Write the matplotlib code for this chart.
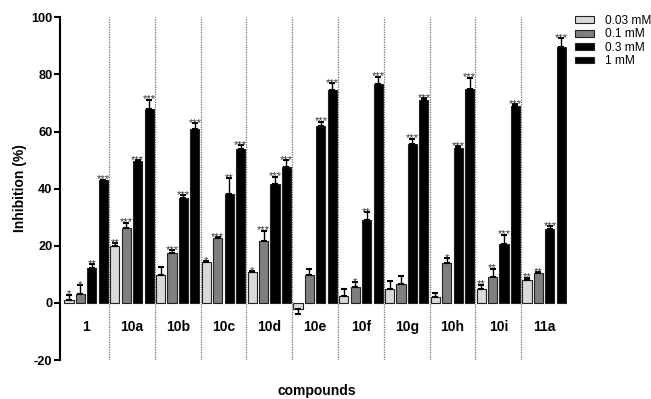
import numpy as np
import matplotlib
matplotlib.use("Agg")
from matplotlib import pyplot as plt
from matplotlib.patches import Patch

plt.rcParams['font.family'] = ['Liberation Sans', 'DejaVu Sans']
plt.rcParams['font.weight'] = 'bold'
plt.rcParams['axes.unicode_minus'] = False

compounds = ["1", "10a", "10b", "10c", "10d", "10e", "10f", "10g", "10h", "10i", "11a"]
series = ["0.03 mM", "0.1 mM", "0.3 mM", "1 mM"]

# inhibition (%) and SEM for each concentration
inh_003 = [0.9, 19.8, 9.6, 14.2, 10.8, -2.0, 2.5, 4.7, 1.9, 4.7, 8.0]
err_003 = [2.0, 1.0, 2.8, 0.3, 0.4, 2.0, 2.2, 3.0, 1.4, 1.7, 0.8]
inh_01 = [3.0, 26.1, 17.3, 22.6, 21.6, 9.6, 5.7, 6.5, 13.9, 9.1, 10.4]
err_01 = [3.1, 2.0, 1.2, 0.5, 3.7, 2.1, 1.6, 2.9, 1.7, 2.9, 0.3]
inh_03 = [12.3, 49.7, 36.7, 38.1, 41.5, 62.0, 29.0, 55.8, 54.4, 20.6, 26.0]
err_03 = [1.2, 0.4, 1.1, 5.5, 2.7, 1.5, 2.8, 1.7, 0.6, 3.3, 0.9]
inh_1 = [43.0, 68.0, 60.9, 53.9, 47.7, 74.6, 76.8, 70.9, 74.9, 69.0, 89.5]
err_1 = [0.2, 3.2, 2.0, 1.3, 2.4, 2.4, 2.4, 0.8, 4.0, 0.6, 3.1]

stars_003 = ["*", "**", "", "*", "*", "", "", "", "", "**", "**"]
stars_01 = ["*", "***", "***", "***", "***", "", "*", "", "*", "**", "**"]
stars_03 = ["**", "***", "***", "**", "***", "***", "**", "***", "***", "***", "***"]
stars_1 = ["***"] * 11

values = [inh_003, inh_01, inh_03, inh_1]
errors = [err_003, err_01, err_03, err_1]
stars = [stars_003, stars_01, stars_03, stars_1]
colors = ["#d9d9d9", "#7f7f7f", "black", "black"]

fig = plt.figure(figsize=(6.51, 3.99), dpi=100)
ax = fig.add_axes([0.0922, 0.0977, 0.7788, 0.8589])

x = np.arange(len(compounds))
w = 0.2
for k in range(4):
    v = np.array(values[k])
    e = np.array(errors[k])
    pos = x + (k - 1.5) * 0.25
    ax.bar(pos, v, width=w, color=colors[k], edgecolor="#222222", linewidth=0.8, zorder=2)
    lo = np.where(v < 0, e, 0)
    hi = np.where(v >= 0, e, 0)
    ax.errorbar(pos, v, yerr=[lo, hi], fmt="none", ecolor="black", elinewidth=1,
                capsize=2, capthick=1.5, zorder=3)
    for p, val, er, s in zip(pos, v, e, stars[k]):
        if s:
            ax.annotate(s, (p, val + er), xytext=(0, -2), textcoords="offset points",
                        ha="center", va="baseline", fontsize=8, fontweight="normal",
                        color="#333333")

ax.vlines(x[:-1] + 0.5, -20, 100, colors="#6f6f6f", linestyles=(0, (1, 1)), linewidth=0.9, zorder=1)

ax.set_xlim(-0.57, 10.5)
ax.set_ylim(-20, 100)
ax.set_yticks([-20, 0, 20, 40, 60, 80, 100])
ax.set_xticks(x)
ax.set_xticklabels(compounds, fontweight="bold", fontsize=9.5)
ax.tick_params(axis="y", width=1.5, length=4, pad=1.5, labelsize=9.2)
ax.tick_params(axis="x", length=0, pad=12)

ax.spines["top"].set_visible(False)
ax.spines["right"].set_visible(False)
ax.spines["bottom"].set_position(("data", 0))
ax.spines["bottom"].set_color("none")
ax.spines["left"].set_linewidth(1.5)

fig.text(20 / 651, 1 - 188 / 399, "Inhibition (%)", rotation=90, ha="center", va="center",
         fontweight="bold", fontsize=10)
fig.text(317 / 651, 1 - 391 / 399, "compounds", ha="center", va="center",
         fontweight="bold", fontsize=10)

handles = [Patch(facecolor=c, edgecolor="#222222", linewidth=0.8) for c in colors]
fig.legend(handles, series, loc="upper left", bbox_to_anchor=(575 / 651, 1 - 15 / 399),
           frameon=False, prop={"size": 8.6, "weight": "normal"}, handlelength=1.6,
           handleheight=0.5, handletextpad=0.9, labelspacing=0.12, borderpad=0,
           borderaxespad=0)

plt.savefig("out.png", dpi=100)
